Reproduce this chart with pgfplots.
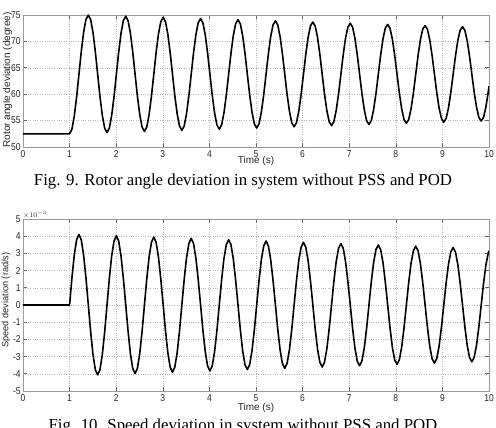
\documentclass[border=0pt]{standalone}
\usepackage{pgfplots}
\pgfplotsset{compat=1.18}
\usepackage{fontspec}
\setmainfont{Liberation Serif}
\setsansfont{Liberation Sans}

\pgfplotstableread{
t v
0 52.5
1.000 52.50
1.050 53.37
1.100 55.83
1.151 59.49
1.201 63.80
1.251 68.10
1.301 71.73
1.351 74.15
1.402 74.99
1.452 74.13
1.502 71.69
1.552 68.07
1.602 63.80
1.652 59.54
1.703 55.95
1.753 53.55
1.803 52.72
1.853 53.58
1.903 55.99
1.954 59.58
2.004 63.80
2.054 68.01
2.104 71.58
2.154 73.95
2.205 74.77
2.255 73.92
2.305 71.54
2.355 67.98
2.405 63.80
2.455 59.63
2.506 56.10
2.556 53.76
2.606 52.94
2.656 53.78
2.706 56.14
2.757 59.66
2.807 63.80
2.857 67.93
2.907 71.42
2.957 73.74
3.008 74.55
3.058 73.72
3.108 71.38
3.158 67.90
3.208 63.80
3.258 59.71
3.309 56.26
3.359 53.96
3.409 53.16
3.459 53.98
3.509 56.30
3.560 59.74
3.610 63.80
3.660 67.85
3.710 71.26
3.760 73.54
3.811 74.33
3.861 73.51
3.911 71.22
3.961 67.81
4.011 63.80
4.061 59.80
4.112 56.41
4.162 54.16
4.212 53.38
4.262 54.19
4.312 56.45
4.363 59.83
4.413 63.80
4.463 67.76
4.513 71.11
4.563 73.33
4.614 74.11
4.664 73.31
4.714 71.07
4.764 67.73
4.814 63.80
4.864 59.88
4.915 56.57
4.965 54.37
5.015 53.60
5.065 54.39
5.115 56.61
5.166 59.91
5.216 63.80
5.266 67.68
5.316 70.95
5.366 73.13
5.417 73.89
5.467 73.11
5.517 70.91
5.567 67.64
5.617 63.80
5.667 59.97
5.718 56.73
5.768 54.57
5.818 53.83
5.868 54.60
5.918 56.77
5.969 60.00
6.019 63.80
6.069 67.59
6.119 70.79
6.169 72.93
6.220 73.67
6.270 72.90
6.320 70.76
6.370 67.56
6.420 63.80
6.470 60.05
6.521 56.88
6.571 54.78
6.621 54.05
6.671 54.80
6.721 56.92
6.772 60.08
6.822 63.80
6.872 67.51
6.922 70.64
6.972 72.72
7.023 73.44
7.073 72.70
7.123 70.60
7.173 67.47
7.223 63.80
7.273 60.14
7.324 57.04
7.374 54.98
7.424 54.27
7.474 55.00
7.524 57.08
7.575 60.17
7.625 63.80
7.675 67.42
7.725 70.48
7.775 72.52
7.826 73.22
7.876 72.49
7.926 70.44
7.976 67.39
8.026 63.80
8.076 60.22
8.127 57.20
8.177 55.18
8.227 54.49
8.277 55.21
8.327 57.23
8.378 60.25
8.428 63.80
8.478 67.34
8.528 70.33
8.578 72.31
8.629 73.00
8.679 72.29
8.729 70.29
8.779 67.31
8.829 63.80
8.879 60.30
8.930 57.35
8.980 55.39
9.030 54.71
9.080 55.41
9.130 57.39
9.181 60.34
9.231 63.80
9.281 67.25
9.331 70.17
9.381 72.11
9.432 72.78
9.482 72.09
9.532 70.13
9.582 67.22
9.632 63.80
9.682 60.39
9.733 57.51
9.783 55.59
9.833 54.93
9.883 55.62
9.933 57.55
9.984 60.42
10.000 61.52
}\angledata

\pgfplotstableread{
t v
0 0
1.000 0
1.050 1.575
1.100 2.906
1.151 3.793
1.201 4.101
1.251 3.784
1.301 2.893
1.351 1.564
1.402 0
1.452 -1.560
1.502 -2.879
1.552 -3.758
1.602 -4.063
1.652 -3.749
1.703 -2.866
1.753 -1.549
1.803 0
1.853 1.546
1.903 2.852
1.954 3.723
2.004 4.025
2.054 3.714
2.104 2.839
2.154 1.535
2.205 0
2.255 -1.531
2.305 -2.826
2.355 -3.688
2.405 -3.987
2.455 -3.679
2.506 -2.812
2.556 -1.520
2.606 0
2.656 1.516
2.706 2.798
2.757 3.652
2.807 3.948
2.857 3.643
2.907 2.785
2.957 1.506
3.008 0
3.058 -1.502
3.108 -2.771
3.158 -3.617
3.208 -3.910
3.258 -3.608
3.309 -2.758
3.359 -1.491
3.409 0
3.459 1.487
3.509 2.744
3.560 3.582
3.610 3.872
3.660 3.573
3.710 2.731
3.760 1.476
3.811 0
3.861 -1.473
3.911 -2.717
3.961 -3.547
4.011 -3.834
4.061 -3.538
4.112 -2.704
4.162 -1.462
4.212 0
4.262 1.458
4.312 2.691
4.363 3.512
4.413 3.796
4.463 3.503
4.513 2.677
4.563 1.447
4.614 0
4.664 -1.444
4.714 -2.664
4.764 -3.477
4.814 -3.758
4.864 -3.467
4.915 -2.650
4.965 -1.432
5.015 0
5.065 1.429
5.115 2.637
5.166 3.442
5.216 3.720
5.266 3.432
5.316 2.623
5.366 1.418
5.417 0
5.467 -1.414
5.517 -2.610
5.567 -3.406
5.617 -3.682
5.667 -3.397
5.718 -2.596
5.768 -1.403
5.818 0
5.868 1.400
5.918 2.582
5.969 3.370
6.019 3.643
6.069 3.361
6.119 2.569
6.169 1.389
6.220 0
6.270 -1.385
6.320 -2.555
6.370 -3.335
6.420 -3.605
6.470 -3.326
6.521 -2.542
6.571 -1.374
6.621 0
6.671 1.370
6.721 2.529
6.772 3.300
6.822 3.567
6.872 3.291
6.922 2.515
6.972 1.360
7.023 0
7.073 -1.356
7.123 -2.502
7.173 -3.265
7.223 -3.529
7.273 -3.256
7.324 -2.488
7.374 -1.345
7.424 0
7.474 1.341
7.524 2.475
7.575 3.230
7.625 3.491
7.675 3.221
7.725 2.461
7.775 1.331
7.826 0
7.876 -1.327
7.926 -2.448
7.976 -3.195
8.026 -3.453
8.076 -3.186
8.127 -2.435
8.177 -1.316
8.227 0
8.277 1.312
8.327 2.420
8.378 3.159
8.428 3.414
8.478 3.150
8.528 2.407
8.578 1.301
8.629 0
8.679 -1.297
8.729 -2.394
8.779 -3.124
8.829 -3.376
8.879 -3.114
8.930 -2.380
8.980 -1.286
9.030 0
9.080 1.283
9.130 2.367
9.181 3.089
9.231 3.338
9.281 3.079
9.331 2.353
9.381 1.272
9.432 0
9.482 -1.268
9.532 -2.340
9.582 -3.053
9.632 -3.300
9.682 -3.044
9.733 -2.326
9.783 -1.257
9.833 0
9.883 1.254
9.933 2.313
9.984 3.018
10.000 3.154
}\speeddata

\pgfplotsset{matlab/.style={
  scale only axis, width=466pt,
  xmin=0, xmax=10, xtick={0,1,...,10},
  grid=major, grid style={black!28, line width=0.45pt, dash pattern=on 0.8pt off 1.6pt},
  axis line style={black!40, line width=0.8pt},
  tick style={black!60, line width=0.6pt}, tick align=inside, major tick length=4pt,
  tick label style={font=\sffamily\fontsize{10}{12}\selectfont, text=black!85, xscale=0.85},
  yticklabel style={inner sep=2.5pt},
  /pgf/number format/assume math mode=true,
  label style={font=\sffamily\fontsize{10}{12}\selectfont, text=black!85},
  xlabel={Time (s)},
  xlabel style={at={(axis description cs:0.5,0)}, anchor=center},
  clip=true,
}}

\begin{document}
\begin{tikzpicture}
\path[use as bounding box] (0,0) rectangle (496pt,-428pt);

\begin{axis}[matlab,
  at={(23pt,-15pt)}, anchor=north west, height=132pt,
  ymin=50, ymax=75, ytick={50,55,...,75},
  xlabel style={yshift=-14pt},
  ylabel={Rotor angle deviation (degree)},
  ylabel style={at={(axis description cs:-0.0333,0.508)}, anchor=center},
]
\addplot[black, line width=1.6pt, line join=round] table[x=t, y=v] {\angledata};
\end{axis}

\begin{axis}[matlab,
  at={(23pt,-219pt)}, anchor=north west, height=172pt,
  ymin=-5, ymax=5, ytick={-5,-4,...,5},
  xlabel style={yshift=-17pt},
  ylabel={Speed deviation (rad/s)},
  ylabel style={at={(axis description cs:-0.0365,0.529)}, anchor=center, font=\sffamily\fontsize{9.2}{11}\selectfont},
  after end axis/.code={
    \node[anchor=south west, inner sep=0pt, text=black!85, font=\sffamily\fontsize{7}{8}\selectfont] at (rel axis cs:0,1) {$\times10^{-3}$};
  },
]
\addplot[black, line width=1.6pt, line join=round] table[x=t, y=v] {\speeddata};
\end{axis}

\node[anchor=base, font=\fontsize{16.8}{19}\selectfont] at (243pt,-185pt) {Fig. 9. Rotor angle deviation in system without PSS and POD};
\node[anchor=base, font=\fontsize{16.8}{19}\selectfont] at (243pt,-430.5pt) {Fig. 10. Speed deviation in system without PSS and POD};
\end{tikzpicture}
\end{document}
